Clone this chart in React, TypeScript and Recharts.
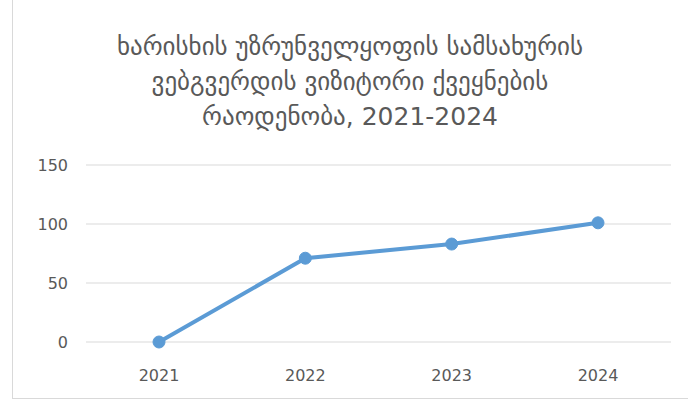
import { LineChart, Line, XAxis, YAxis, CartesianGrid } from "recharts";

const years = ["2021", "2022", "2023", "2024"];
const countries = [0, 71, 83, 101];
const yTicks = [0, 50, 100, 150];
const titleLines = [
  "ხარისხის უზრუნველყოფის სამსახურის",
  "ვებგვერდის ვიზიტორი ქვეყნების",
  "რაოდენობა, 2021-2024",
];

const data = years.map((year, i) => ({ year, value: countries[i] }));

export default function App() {
  return (
    <div
      style={{
        position: "absolute",
        left: 0,
        top: 0,
        width: 689,
        height: 400,
        background: "#ffffff",
        fontFamily: "'DejaVu Sans', 'Noto Sans', sans-serif",
      }}
    >
      <div
        style={{
          position: "absolute",
          left: 12,
          top: 0,
          width: 676,
          height: 399,
          borderLeft: "1px solid #d9d9d9",
          borderBottom: "1px solid #d9d9d9",
          boxSizing: "border-box",
        }}
      />
      <div
        style={{
          position: "absolute",
          top: 29,
          left: 0,
          width: 700,
          textAlign: "center",
          color: "#595959",
          fontSize: 25,
          lineHeight: "35px",
        }}
      >
        {titleLines.map((t) => (
          <div key={t}>{t}</div>
        ))}
      </div>
      <div style={{ position: "absolute", left: 0, top: 0 }}>
        <LineChart
          width={689}
          height={400}
          data={data}
          margin={{ top: 165, right: 18, bottom: 28, left: 36 }}
        >
          <CartesianGrid vertical={false} stroke="#d9d9d9" strokeWidth={1} />
          <XAxis
            dataKey="year"
            axisLine={false}
            tickLine={false}
            height={30}
            padding={{ left: 73, right: 73 }}
            tick={{ fill: "#595959", fontSize: 16 }}
            tickMargin={22}
          />
          <YAxis
            domain={[0, 150]}
            ticks={yTicks}
            axisLine={false}
            tickLine={false}
            width={50}
            tick={{ fill: "#595959", fontSize: 16 }}
            tickMargin={12}
          />
          <Line
            type="linear"
            dataKey="value"
            stroke="#5b9bd5"
            strokeWidth={4}
            dot={{ r: 6, fill: "#5b9bd5", stroke: "#5b9bd5", strokeWidth: 1 }}
            isAnimationActive={false}
          />
        </LineChart>
      </div>
    </div>
  );
}
